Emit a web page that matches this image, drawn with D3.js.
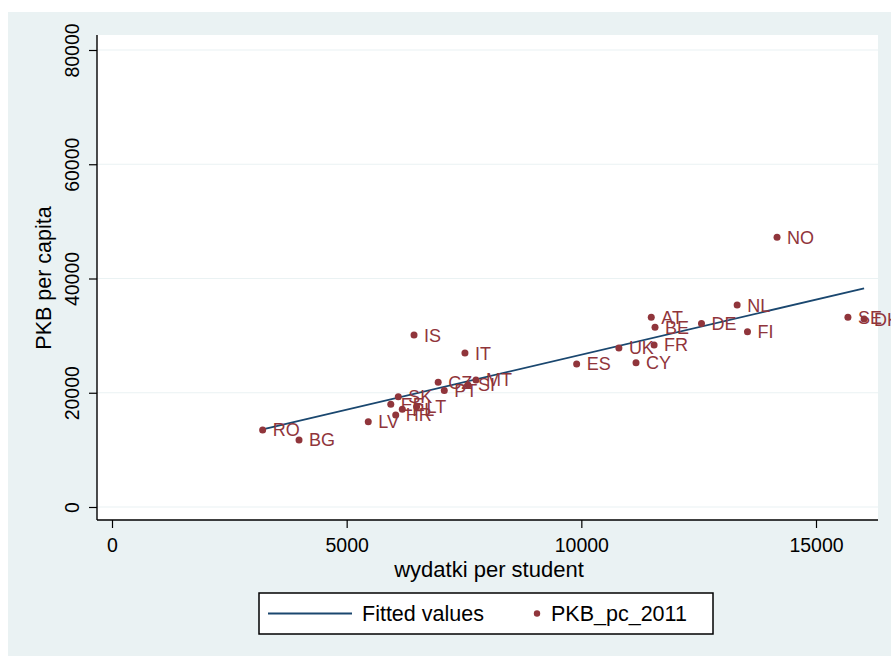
<!DOCTYPE html>
<html>
<head>
<meta charset="utf-8">
<script src="https://cdn.jsdelivr.net/npm/d3@7"></script>
<style>
  html, body { margin: 0; padding: 0; background: #ffffff; }
  svg { display: block; font-family: "Liberation Sans", Arial, sans-serif; }
</style>
</head>
<body>
<svg id="chart" width="891" height="656"></svg>
<script>
// ---- data ----
const countries = ["RO","BG","LV","EE","SK","PL","HR","LT","CZ","PT","SI","MT","IS","IT","ES","UK","CY","FR","BE","AT","DE","NL","FI","NO","SE","DK"];
const spending  = [3210, 3985, 5460, 5940, 6100, 6185, 6045, 6490, 6950, 7080, 7585, 7755, 6435, 7520, 9900, 10800, 11165, 11550, 11570, 11490, 12560, 13320, 13540, 14170, 15680, 16025];
const gdp       = [13500, 11730, 14930, 17980, 19310, 17100, 16110, 17560, 21830, 20400, 21360, 22230, 30100, 26940, 25030, 27840, 25230, 28360, 31480, 33230, 32110, 35350, 30690, 47220, 33230, 32890];
const fitX = [3210, 16025];
const fitY = [13570, 38280];
const xTicks = [0, 5000, 10000, 15000];
const yTicks = [0, 20000, 40000, 60000, 80000];
const xTitle = "wydatki per student";
const yTitle = "PKB per capita";
const legendLabels = ["Fitted values", "PKB_pc_2011"];

// ---- layout ----
const svg = d3.select("#chart");
const W = 891, H = 656;
const plot = { left: 97, right: 878, top: 35, bottom: 520 };
const lineColor = "#1a476f";
const dotColor = "#90353b";
const bgColor = "#eaf2f3";

svg.append("rect").attr("x", 8).attr("y", 12).attr("width", W - 8).attr("height", H - 12).attr("fill", bgColor);
svg.append("rect").attr("x", plot.left).attr("y", plot.top)
  .attr("width", plot.right - plot.left).attr("height", plot.bottom - plot.top).attr("fill", "#ffffff");

const x = d3.scaleLinear().domain([0, 15000]).range([112, 816]);
const y = d3.scaleLinear().domain([0, 80000]).range([507, 50]);

// grid
svg.append("g").selectAll("line").data(yTicks).join("line")
  .attr("x1", plot.left).attr("x2", plot.right)
  .attr("y1", d => y(d)).attr("y2", d => y(d))
  .attr("stroke", bgColor).attr("stroke-width", 1.2);

// x axis
const xAxis = svg.append("g").attr("transform", `translate(0,${plot.bottom})`)
  .call(d3.axisBottom(x).tickValues(xTicks).tickFormat(d3.format("d")).tickSizeOuter(0).tickSize(8).tickPadding(10));
xAxis.select(".domain").remove();
xAxis.selectAll("line").attr("stroke", "#000").attr("stroke-width", 1.2);
xAxis.selectAll("text").attr("font-size", 19.5).attr("fill", "#000").attr("font-family", "Liberation Sans, Arial, sans-serif");
svg.append("line").attr("x1", plot.left).attr("x2", plot.right).attr("y1", plot.bottom).attr("y2", plot.bottom)
  .attr("stroke", "#000").attr("stroke-width", 1.4);

// y axis
const yAxis = svg.append("g").attr("transform", `translate(${plot.left},0)`)
  .call(d3.axisLeft(y).tickValues(yTicks).tickFormat(d3.format("d")).tickSizeOuter(0).tickSize(8).tickPadding(0));
yAxis.select(".domain").remove();
yAxis.selectAll("line").attr("stroke", "#000").attr("stroke-width", 1.2);
yAxis.selectAll("text")
  .attr("font-size", 19.5).attr("fill", "#000").attr("font-family", "Liberation Sans, Arial, sans-serif")
  .attr("x", null).attr("dy", null)
  .attr("text-anchor", "middle")
  .attr("transform", "translate(-25,0) rotate(-90)")
  .attr("dy", "0.35em");
svg.append("line").attr("x1", plot.left).attr("x2", plot.left).attr("y1", plot.top).attr("y2", plot.bottom)
  .attr("stroke", "#000").attr("stroke-width", 1.4);

// axis titles
svg.append("text").attr("x", 489).attr("y", 577).attr("text-anchor", "middle")
  .attr("font-size", 22).attr("fill", "#000").text(xTitle);
svg.append("text").attr("transform", `translate(51,278) rotate(-90)`).attr("text-anchor", "middle")
  .attr("font-size", 21.5).attr("fill", "#000").text(yTitle);

// fitted line
svg.append("line")
  .attr("x1", x(fitX[0])).attr("y1", y(fitY[0]))
  .attr("x2", x(fitX[1])).attr("y2", y(fitY[1]))
  .attr("stroke", lineColor).attr("stroke-width", 1.8);

// points + labels
const pts = countries.map((c, i) => ({ c, sx: spending[i], g: gdp[i] }));
const gp = svg.append("g");
gp.selectAll("circle").data(pts).join("circle")
  .attr("cx", d => x(d.sx)).attr("cy", d => y(d.g)).attr("r", 3.5).attr("fill", dotColor);
gp.selectAll("text").data(pts).join("text")
  .attr("x", d => x(d.sx) + 10).attr("y", d => y(d.g)).attr("dy", "0.36em")
  .attr("font-size", 18).attr("fill", dotColor).text(d => d.c);

// legend
const lg = svg.append("g");
lg.append("rect").attr("x", 259).attr("y", 593).attr("width", 454).attr("height", 41)
  .attr("fill", "#fff").attr("stroke", "#000").attr("stroke-width", 1.5);
lg.append("line").attr("x1", 268).attr("x2", 352).attr("y1", 613.5).attr("y2", 613.5)
  .attr("stroke", lineColor).attr("stroke-width", 1.8);
lg.append("text").attr("x", 362).attr("y", 613.5).attr("dy", "0.36em").attr("font-size", 21.5).attr("fill", "#000").text(legendLabels[0]);
lg.append("circle").attr("cx", 537).attr("cy", 613.5).attr("r", 3.2).attr("fill", dotColor);
lg.append("text").attr("x", 551).attr("y", 613.5).attr("dy", "0.36em").attr("font-size", 21.5).attr("fill", "#000").text(legendLabels[1]);
</script>
</body>
</html>
